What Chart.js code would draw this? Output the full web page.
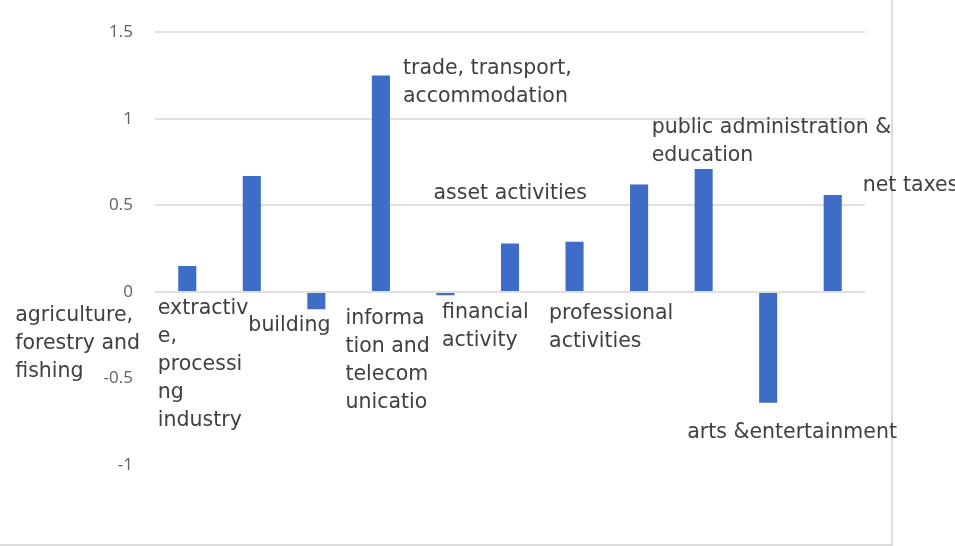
<!DOCTYPE html>
<html>
<head>
<meta charset="utf-8">
<script src="https://cdn.jsdelivr.net/npm/chart.js@4/dist/chart.umd.min.js"></script>
<style>
  html, body { margin: 0; padding: 0; background: #ffffff; }
  #wrap { width: 955px; height: 546px; position: relative; }
</style>
</head>
<body>
<div id="wrap"><canvas id="c" width="955" height="546"></canvas></div>
<script>
// ---- data ----
const categories = [
  "agriculture, forestry and fishing",
  "extractive, processing industry",
  "building",
  "trade, transport, accommodation",
  "information and telecommunication",
  "financial activity",
  "asset activities",
  "professional activities",
  "public administration & education",
  "arts &entertainment",
  "net taxes"
];
const values = [0.15, 0.67, -0.10, 1.25, -0.02, 0.28, 0.29, 0.62, 0.71, -0.64, 0.56];
const labelLines = [
  ["agriculture,", "forestry and", "fishing"],
  ["extractiv", "e,", "processi", "ng", "industry"],
  ["building"],
  ["trade, transport,", "accommodation"],
  ["informa", "tion and", "telecom", "unicatio"],
  ["financial", "activity"],
  ["asset activities"],
  ["professional", "activities"],
  ["public administration &", "education"],
  ["arts &entertainment"],
  ["net taxes"]
];
const yTicks = [1.5, 1, 0.5, 0, -0.5, -1];

// ---- layout of data labels (pixel offsets from bar centre / zero line) ----
const labelOffsets = [
  [-172, 24], [-94, 17], [-68, 34], [22, -223], [-100, 27], [-68, 21],
  [-141, -98], [-90, 22], [-52, -164], [-81, 141], [30, -106]
];

const labelPlugin = {
  id: 'dataLabelsCustom',
  afterDatasetsDraw(chart) {
    const ctx = chart.ctx;
    const meta = chart.getDatasetMeta(0);
    const y0 = chart.scales.y.getPixelForValue(0);
    ctx.save();
    ctx.font = '20.5px "DejaVu Sans"';
    ctx.fillStyle = '#404040';
    ctx.textBaseline = 'middle';
    ctx.textAlign = 'left';
    labelLines.forEach((lines, i) => {
      const x = meta.data[i].x + labelOffsets[i][0];
      const y = y0 + labelOffsets[i][1];
      lines.forEach((ln, k) => ctx.fillText(ln, x, y + k * 28));
    });
    ctx.restore();
  }
};

const framePlugin = {
  id: 'frame',
  beforeDraw(chart) {
    const ctx = chart.ctx;
    ctx.save();
    ctx.fillStyle = '#ffffff';
    ctx.fillRect(0, 0, chart.width, chart.height);
    ctx.strokeStyle = '#dcdcdc';
    ctx.lineWidth = 2;
    ctx.beginPath();
    ctx.moveTo(892, 0); ctx.lineTo(892, chart.height);
    ctx.moveTo(0, chart.height - 1); ctx.lineTo(892, chart.height - 1);
    ctx.stroke();
    ctx.restore();
  }
};

new Chart(document.getElementById('c'), {
  type: 'bar',
  data: {
    labels: categories,
    datasets: [{
      data: values,
      backgroundColor: '#3E6DC8',
      barPercentage: 0.28,
      categoryPercentage: 1.0
    }]
  },
  options: {
    responsive: false,
    animation: false,
    layout: { padding: { left: 0, right: 90, top: 30, bottom: 81 } },
    plugins: { legend: { display: false }, tooltip: { enabled: false } },
    scales: {
      x: { display: false },
      y: {
        min: -1, max: 1.5,
        afterFit(scale) { scale.width = 155; },
        afterBuildTicks(scale) { scale.ticks = yTicks.map(v => ({ value: v })); },
        border: { display: false },
        grid: {
          drawTicks: false,
          lineWidth: 2,
          color: ctx => (ctx.tick && ctx.tick.value >= 0) ? '#e0e0e0' : 'rgba(0,0,0,0)'
        },
        ticks: {
          padding: 22,
          color: '#606060',
          font: { family: '"Open Sans"', size: 17 },
          callback: v => String(v)
        }
      }
    }
  },
  plugins: [framePlugin, labelPlugin]
});
</script>
</body>
</html>
